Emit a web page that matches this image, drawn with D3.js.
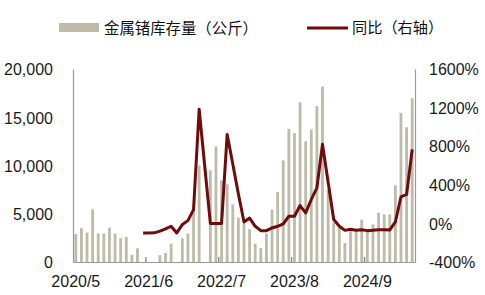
<!DOCTYPE html>
<html><head><meta charset="utf-8">
<script src="https://cdn.jsdelivr.net/npm/d3@7/dist/d3.min.js"></script>
<style>body{margin:0;background:#fff} svg{display:block}</style>
</head><body>
<svg id="chart" width="485" height="295"></svg>
<script>
const categories = [
  "2020/5","2020/6","2020/7","2020/8","2020/9","2020/10","2020/11","2020/12",
  "2021/1","2021/2","2021/3","2021/4","2021/5","2021/6","2021/7","2021/8","2021/9","2021/10","2021/11","2021/12",
  "2022/1","2022/2","2022/3","2022/4","2022/5","2022/6","2022/7","2022/8","2022/9","2022/10","2022/11","2022/12",
  "2023/1","2023/2","2023/3","2023/4","2023/5","2023/6","2023/7","2023/8","2023/9","2023/10","2023/11","2023/12",
  "2024/1","2024/2","2024/3","2024/4","2024/5","2024/6","2024/7","2024/8","2024/9","2024/10","2024/11","2024/12",
  "2025/1","2025/2","2025/3","2025/4","2025/5"
];
// 金属锗库存量（公斤）
const inventory = [
  2900, 3500, 3050, 5450, 2950, 2950, 3550, 2950,
  2450, 2600, 750, 1420, 0, 0, 0, 700, 930, 1900, 0, 2450,
  2950, 5500, 10000, null, 9500, 11980, 8450, 8050, 5970, 4600, 4000, 3400,
  1900, 1450, 2950, 5420, 7250, 10530, 13800, 13350, 16560, 12500, 13730, 16150,
  18180, 7500, 4100, 3800, 1970, 3400, 3280, 4390, 3280, 3900, 5110, 4940,
  4940, 7940, 15460, 13970, 16970
];
// 同比（右轴）, %
const yoy = [
  null, null, null, null, null, null, null, null,
  null, null, null, null, -100, -100, -98, -80, -57, -30, -99, -12,
  29, 143, 1183, null, 0, 0, 0, 922, 615, 305, 15, 55,
  -30, -75, -75, -47, -30, -5, 74, 74, 185, 109, 248, 369,
  820, 430, 40, -30, -72, -60, -70, -65, -75, -70, -65, -65,
  -68, 15, 276, 300, 767
];
const xTickLabels = ["2020/5","2021/6","2022/7","2023/8","2024/9"];
const leftTicks = [0, 5000, 10000, 15000, 20000];
const rightTicks = [-400, 0, 400, 800, 1200, 1600];
const seriesNames = ["金属锗库存量（公斤）", "同比（右轴）"];

const barColor = "#bebba9", lineColor = "#700b0b", axisColor = "#9a9a9a";
const numFont = "'Liberation Sans', Arial, sans-serif";
const cjkFont = "'Noto Sans CJK SC', sans-serif";

const svg = d3.select("#chart");
const x = d3.scaleBand().domain(categories).range([73, 415]).paddingInner(0.5).paddingOuter(0.25);
const yL = d3.scaleLinear().domain([0, 20000]).range([262, 69]);
const yR = d3.scaleLinear().domain([-400, 1600]).range([262, 69]);
const step = x.step();

// bars
svg.append("g").selectAll("rect")
  .data(categories.map((c, i) => ({c, v: inventory[i]})).filter(d => d.v != null && d.v > 0))
  .join("rect")
  .attr("x", d => x(d.c))
  .attr("width", x.bandwidth())
  .attr("y", d => yL(d.v))
  .attr("height", d => yL(0) - yL(d.v))
  .attr("fill", barColor);

// axes
const gl = svg.append("g").attr("transform", "translate(73,0)")
  .call(d3.axisLeft(yL).tickValues(leftTicks).tickFormat(d3.format(",")).tickSize(0).tickPadding(20));
const gr = svg.append("g").attr("transform", "translate(415,0)")
  .call(d3.axisRight(yR).tickValues(rightTicks).tickFormat(d => d + "%").tickSize(0).tickPadding(14));
const gb = svg.append("g").attr("transform", "translate(0,262)")
  .call(d3.axisBottom(x).tickValues(xTickLabels).tickSize(0).tickPadding(14));
[gl, gr, gb].forEach(g => {
  g.select(".domain").attr("stroke", axisColor).attr("stroke-width", 1.2);
  g.selectAll("text").attr("font-family", numFont).attr("font-size", 16).attr("fill", "#1a1a1a");
});
gl.selectAll("text").attr("dy", "0.36em");
gr.selectAll("text").attr("dy", "0.36em");

// inward category ticks at boundaries of labelled months
svg.append("g").selectAll("line")
  .data(xTickLabels.slice(1))
  .join("line")
  .attr("x1", d => x(d) - step * 0.25).attr("x2", d => x(d) - step * 0.25)
  .attr("y1", 262).attr("y2", 257)
  .attr("stroke", "#7a7a7a").attr("stroke-width", 1.2);

// line
const pts = categories.map((c, i) => ({c, v: yoy[i]})).filter(d => d.v != null);
svg.append("path")
  .datum(pts)
  .attr("fill", "none")
  .attr("stroke", lineColor)
  .attr("stroke-width", 3)
  .attr("stroke-linejoin", "round")
  .attr("d", d3.line().x(d => x(d.c) + x.bandwidth() / 2).y(d => yR(d.v)));

// legend
const lg = svg.append("g");
lg.append("rect").attr("x", 59).attr("y", 23).attr("width", 40).attr("height", 9).attr("fill", barColor);
lg.append("text").attr("x", 104).attr("y", 28).attr("dy", "0.36em")
  .attr("font-family", cjkFont).attr("font-size", 15.4).attr("fill", "#111").text(seriesNames[0]);
lg.append("line").attr("x1", 307).attr("x2", 348).attr("y1", 28).attr("y2", 28)
  .attr("stroke", lineColor).attr("stroke-width", 3);
lg.append("text").attr("x", 352).attr("y", 28).attr("dy", "0.36em")
  .attr("font-family", cjkFont).attr("font-size", 15.2).attr("fill", "#111").text(seriesNames[1]);
</script>
</body></html>
